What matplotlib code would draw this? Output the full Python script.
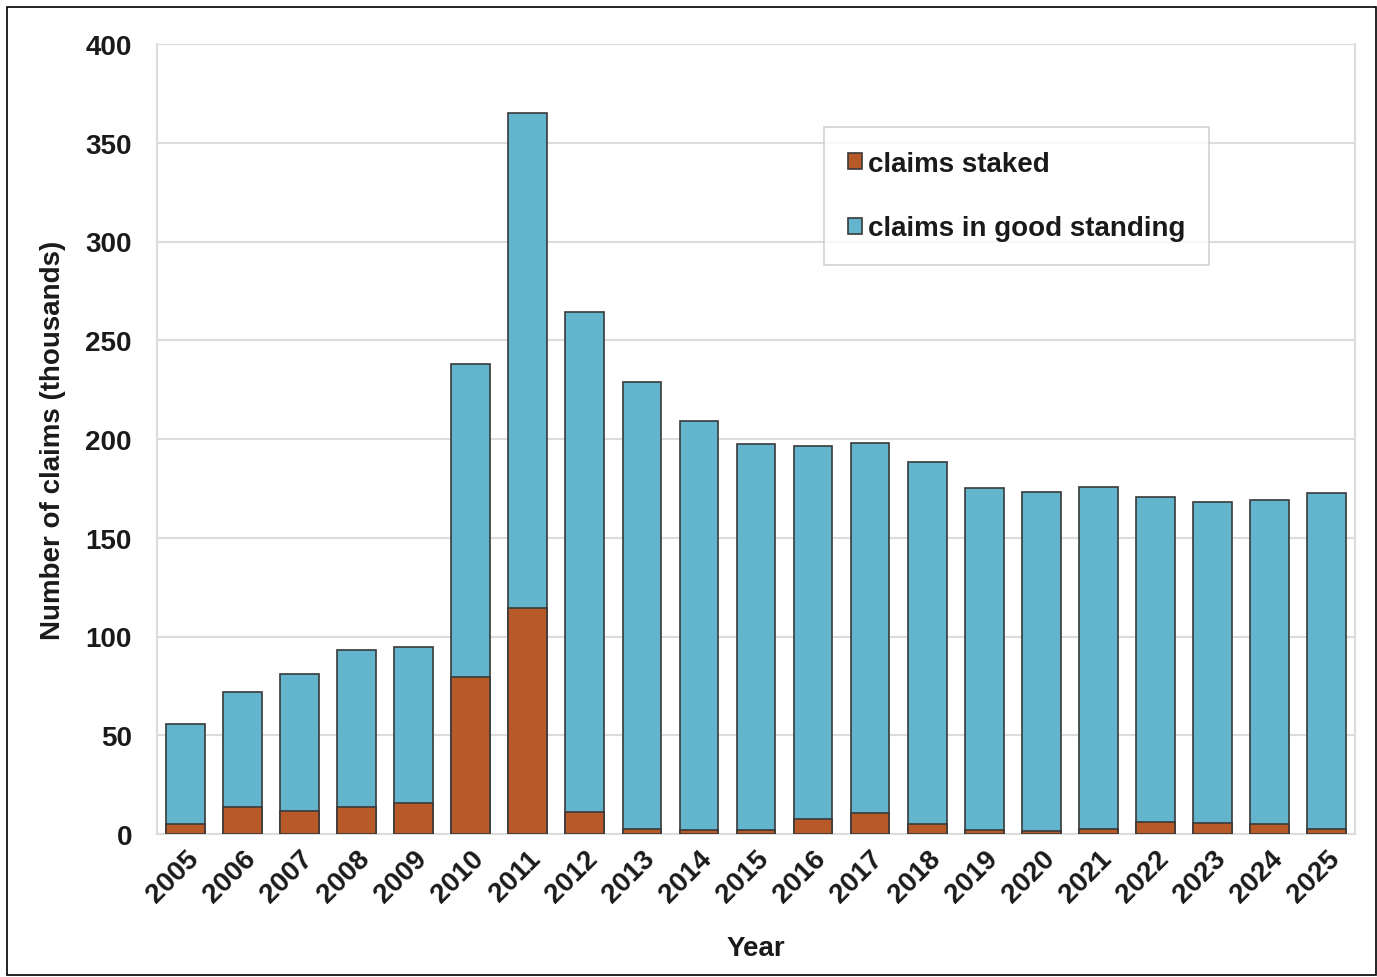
import matplotlib.pyplot as plt
from matplotlib.patches import Rectangle

plt.rcParams["font.family"] = ["Liberation Sans", "DejaVu Sans"]
plt.rcParams["font.weight"] = "bold"

YEARS = list(range(2005, 2026))
GOOD_STANDING = [55.7, 71.9, 81.0, 93.2, 94.7, 238.0, 365.0, 264.3, 228.9, 209.1,
                 197.5, 196.5, 198.0, 188.4, 175.2, 173.2, 175.7, 170.6, 168.1, 169.1, 172.7]
STAKED = [5.0, 13.7, 11.6, 13.7, 15.7, 79.5, 114.4, 11.1, 2.5, 2.0,
          2.0, 7.6, 10.6, 5.0, 2.0, 1.5, 2.5, 6.0, 5.6, 5.0, 2.5]
Y_TICKS = [0, 50, 100, 150, 200, 250, 300, 350, 400]

ORANGE = "#B85A28"
BLUE = "#62B5CC"
EDGE = "#3a3a3a"
GRID = "#dcdcdc"
TEXT = "#1a1a1a"

fig = plt.figure(figsize=(13.77, 9.78), dpi=100)
fig.patches.append(Rectangle((0.005, 0.002), 0.994, 0.99, transform=fig.transFigure,
                             fill=False, edgecolor="black", linewidth=1.2))
ax = fig.add_axes([157 / 1377, 1 - 835 / 978, (1355 - 157) / 1377, (835 - 45) / 978])

x = list(range(len(YEARS)))
ax.bar(x, GOOD_STANDING, width=0.68, color=BLUE, edgecolor=EDGE, linewidth=1.2,
       label="claims in good standing", zorder=3)
ax.bar(x, STAKED, width=0.68, color=ORANGE, edgecolor=EDGE, linewidth=1.2,
       label="claims staked", zorder=4)

ax.set_xlim(-0.5, len(YEARS) - 0.5)
ax.set_ylim(0, 400)
ax.set_yticks(Y_TICKS)
ax.set_yticklabels([str(t) for t in Y_TICKS], fontsize=20, fontweight="bold")
ax.set_xticks(x)
ax.set_xticklabels([str(y) for y in YEARS], rotation=45, ha="right",
                   rotation_mode="anchor", fontsize=20, fontweight="bold")
ax.tick_params(axis="both", length=0, colors=TEXT)
ax.tick_params(axis="y", pad=18)
ax.tick_params(axis="x", pad=8)
ax.grid(axis="y", color=GRID, linewidth=1.5, zorder=0)
ax.set_axisbelow(True)
for side in ("left", "bottom", "right"):
    ax.spines[side].set_color(GRID)
    ax.spines[side].set_linewidth(1.5)
ax.spines["top"].set_visible(False)

ax.set_ylabel("Number of claims (thousands)", fontsize=20, fontweight="bold",
              labelpad=14, color=TEXT)
ax.set_xlabel("Year", fontsize=20, fontweight="bold", labelpad=20, color=TEXT)

handles, labels = ax.get_legend_handles_labels()
leg = ax.legend(handles[::-1], labels[::-1], loc="upper left",
                bbox_to_anchor=((824 - 157) / (1355 - 157), (835 - 128) / (835 - 45)),
                fontsize=20, frameon=True, fancybox=False, handlelength=0.5,
                handleheight=0.5, handletextpad=0.25, labelspacing=1.4,
                borderpad=0.85, borderaxespad=0)
leg.get_frame().set_edgecolor("#c8c8c8")
leg.get_frame().set_linewidth(1.2)
for t in leg.get_texts():
    t.set_fontweight("bold")
    t.set_color(TEXT)

fig.savefig("out.png", dpi=100)
